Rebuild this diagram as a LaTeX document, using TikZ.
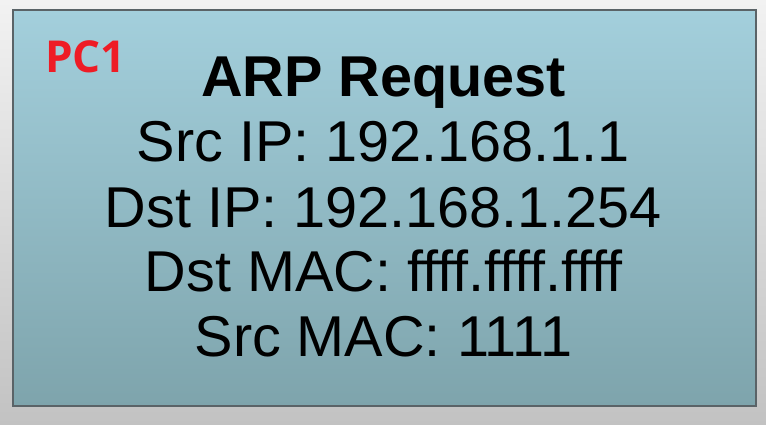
\documentclass[tikz,border=0pt]{standalone}
\usepackage{fontspec}
\setmainfont{Liberation Sans}
\newfontfamily\pcfont{Open Sans}
\definecolor{bgtop}{HTML}{F2F2F2}
\definecolor{bgbot}{HTML}{C2C2C2}
\definecolor{boxtop}{HTML}{A3CFDC}
\definecolor{boxbot}{HTML}{7EA4AC}
\definecolor{boxedge}{HTML}{5A6367}
\definecolor{pcred}{HTML}{EE1C25}
\begin{document}
\begin{tikzpicture}[x=1pt,y=1pt,
  line/.style={anchor=base,inner sep=0pt,font=\fontsize{57.6}{65}\selectfont},
  pclabel/.style={anchor=base west,inner sep=0pt,text=pcred,font=\pcfont\bfseries\fontsize{44}{48}\selectfont}]
\useasboundingbox (0,0) rectangle (766,425);
\shade[top color=bgtop,bottom color=bgbot] (0,0) rectangle (766,425);
\node[draw=boxedge,line width=1.8pt,top color=boxtop,bottom color=boxbot,
  minimum width=743pt,minimum height=396pt,inner sep=0pt,anchor=south west] (box) at (12,18) {};
\node[pclabel] (pc) at (45,352) {PC1};
\node[line,font=\bfseries\fontsize{57.6}{65}\selectfont] (t0) at (383.5,328.3) {ARP Request};
\node[line] (t1) at (383.5,263.3) {Src IP: 192.168.1.1};
\node[line] (t2) at (383.5,197.5) {Dst IP: 192.168.1.254};
\node[line] (t3) at (383.5,133.3) {Dst MAC: ffff.ffff.ffff};
\node[line] (t4) at (383.5,68) {Src MAC: 1111};
\end{tikzpicture}
\end{document}
